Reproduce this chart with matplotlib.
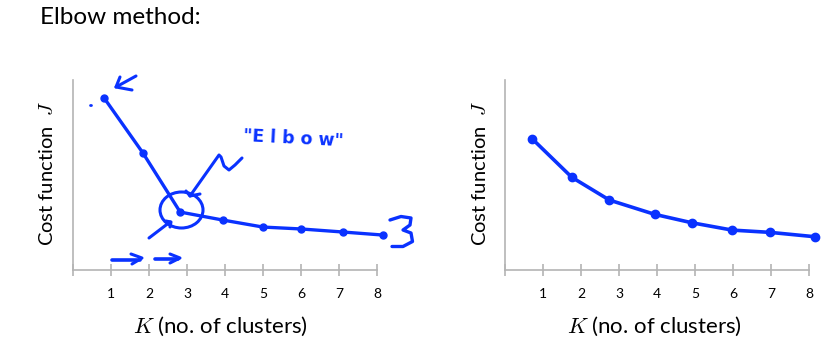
import matplotlib
matplotlib.use("Agg")
import matplotlib.pyplot as plt
from matplotlib.patches import Ellipse

plt.rcParams['font.family'] = ['Lato', 'DejaVu Sans']
plt.rcParams['mathtext.fontset'] = 'cm'

# hand-marked points (K, cost J)
k_left = [0.82, 1.84, 2.82, 3.94, 5.0, 6.0, 7.1, 8.15]
j_left = [9.05, 6.16, 3.05, 2.63, 2.26, 2.16, 2.0, 1.84]

k_right = [0.71, 1.75, 2.74, 3.93, 4.9, 5.97, 6.97, 8.15]
j_right = [6.9, 4.88, 3.68, 2.93, 2.49, 2.1, 1.98, 1.75]

tick_k = [0, 1, 2, 3, 4, 5, 6, 7, 8]
tick_labels = ['', '1', '2', '3', '4', '5', '6', '7', '8']

BLUE = '#0a32ff'
GRAY = '#b4b4b4'
W, H = 835, 352

fig = plt.figure(figsize=(W / 100, H / 100), dpi=100)


def make_axes(left_px):
    ax = fig.add_axes([left_px / W, 82 / H, 8.6 * 38 / W, 190 / H])
    ax.set_xlim(0, 8.6)
    ax.set_ylim(0, 10)
    for s in ['top', 'right']:
        ax.spines[s].set_visible(False)
    ax.spines['left'].set_color(GRAY)
    ax.spines['bottom'].set_color(GRAY)
    ax.spines['left'].set_linewidth(1.2)
    ax.spines['bottom'].set_linewidth(1.2)
    ax.spines['bottom'].set_bounds(0, 8)
    ax.set_yticks([])
    ax.set_xticks(tick_k)
    ax.set_xticklabels(tick_labels, fontsize=10)
    ax.tick_params(axis='x', direction='inout', length=8, width=1.2,
                   color=GRAY, pad=9)
    ax.patch.set_alpha(0)
    return ax


def px(ax_left, x, y):
    # pixel position on the slide -> data coords of the panel
    return (x - ax_left) / 38, (270 - y) / 19


ax1 = make_axes(73)
ax2 = make_axes(505.3)

ax1.plot(k_left, j_left, color=BLUE, lw=2.4, marker='o', ms=5,
         solid_capstyle='round', clip_on=False)
ax2.plot(k_right, j_right, color=BLUE, lw=2.6, marker='o', ms=6,
         solid_capstyle='round', clip_on=False)

# handwritten annotations on the left panel
def stroke(pts, lw=2.2):
    xs, ys = zip(*[px(73, x, y) for x, y in pts])
    ax1.plot(xs, ys, color=BLUE, lw=lw, solid_capstyle='round',
             solid_joinstyle='round', clip_on=False)

stroke([(136, 76), (116, 87)])
stroke([(120, 77), (116, 87), (132, 90)])
stroke([(90, 105), (90.5, 105)], lw=2)
stroke([(242, 158), (235, 165), (229, 170), (224, 166), (221, 157),
        (219, 155), (190, 196)])
stroke([(186, 191), (190, 196), (200, 194)])
stroke([(149, 238), (170, 222)])
stroke([(166, 221), (171, 222), (170, 227)])
stroke([(112, 260), (140, 260)], lw=2.6)
stroke([(131, 254), (142, 258), (132, 264)], lw=2.2)
stroke([(155, 259), (178, 259)], lw=2.6)
stroke([(170, 254), (180, 258), (170, 263)], lw=2.2)
stroke([(390, 220), (401, 216.5), (411, 218), (410, 225), (403, 230),
        (411, 233), (412.5, 241.5), (403, 246.5), (392, 246.5)], lw=2.4)

cx, cy = px(73, 181.5, 210)
ax1.add_patch(Ellipse((cx, cy), 43 / 38, 36 / 19, fill=False,
                      edgecolor=BLUE, lw=2.2, clip_on=False))
ex, ey = px(73, 293, 139)
ax1.text(ex, ey, '"E l b o w"', color=BLUE, fontsize=12.5, ha='center',
         va='center', family='DejaVu Sans', fontweight='bold', rotation=-3)

# slide text
fig.text(40 / W, 1 - 24 / H, 'Elbow method:', fontsize=17.5, va='baseline')
for cxp, cyl in [(220, 47), (654, 480)]:
    fig.text(cxp / W, 1 - 333 / H, r'$K$ (no. of clusters)', fontsize=16,
             ha='center', va='baseline')
    fig.text(cyl / W, 1 - 174 / H, r'Cost function  $J$', fontsize=14.5,
             ha='center', va='center', rotation=90)

fig.savefig('out.png', dpi=100)
